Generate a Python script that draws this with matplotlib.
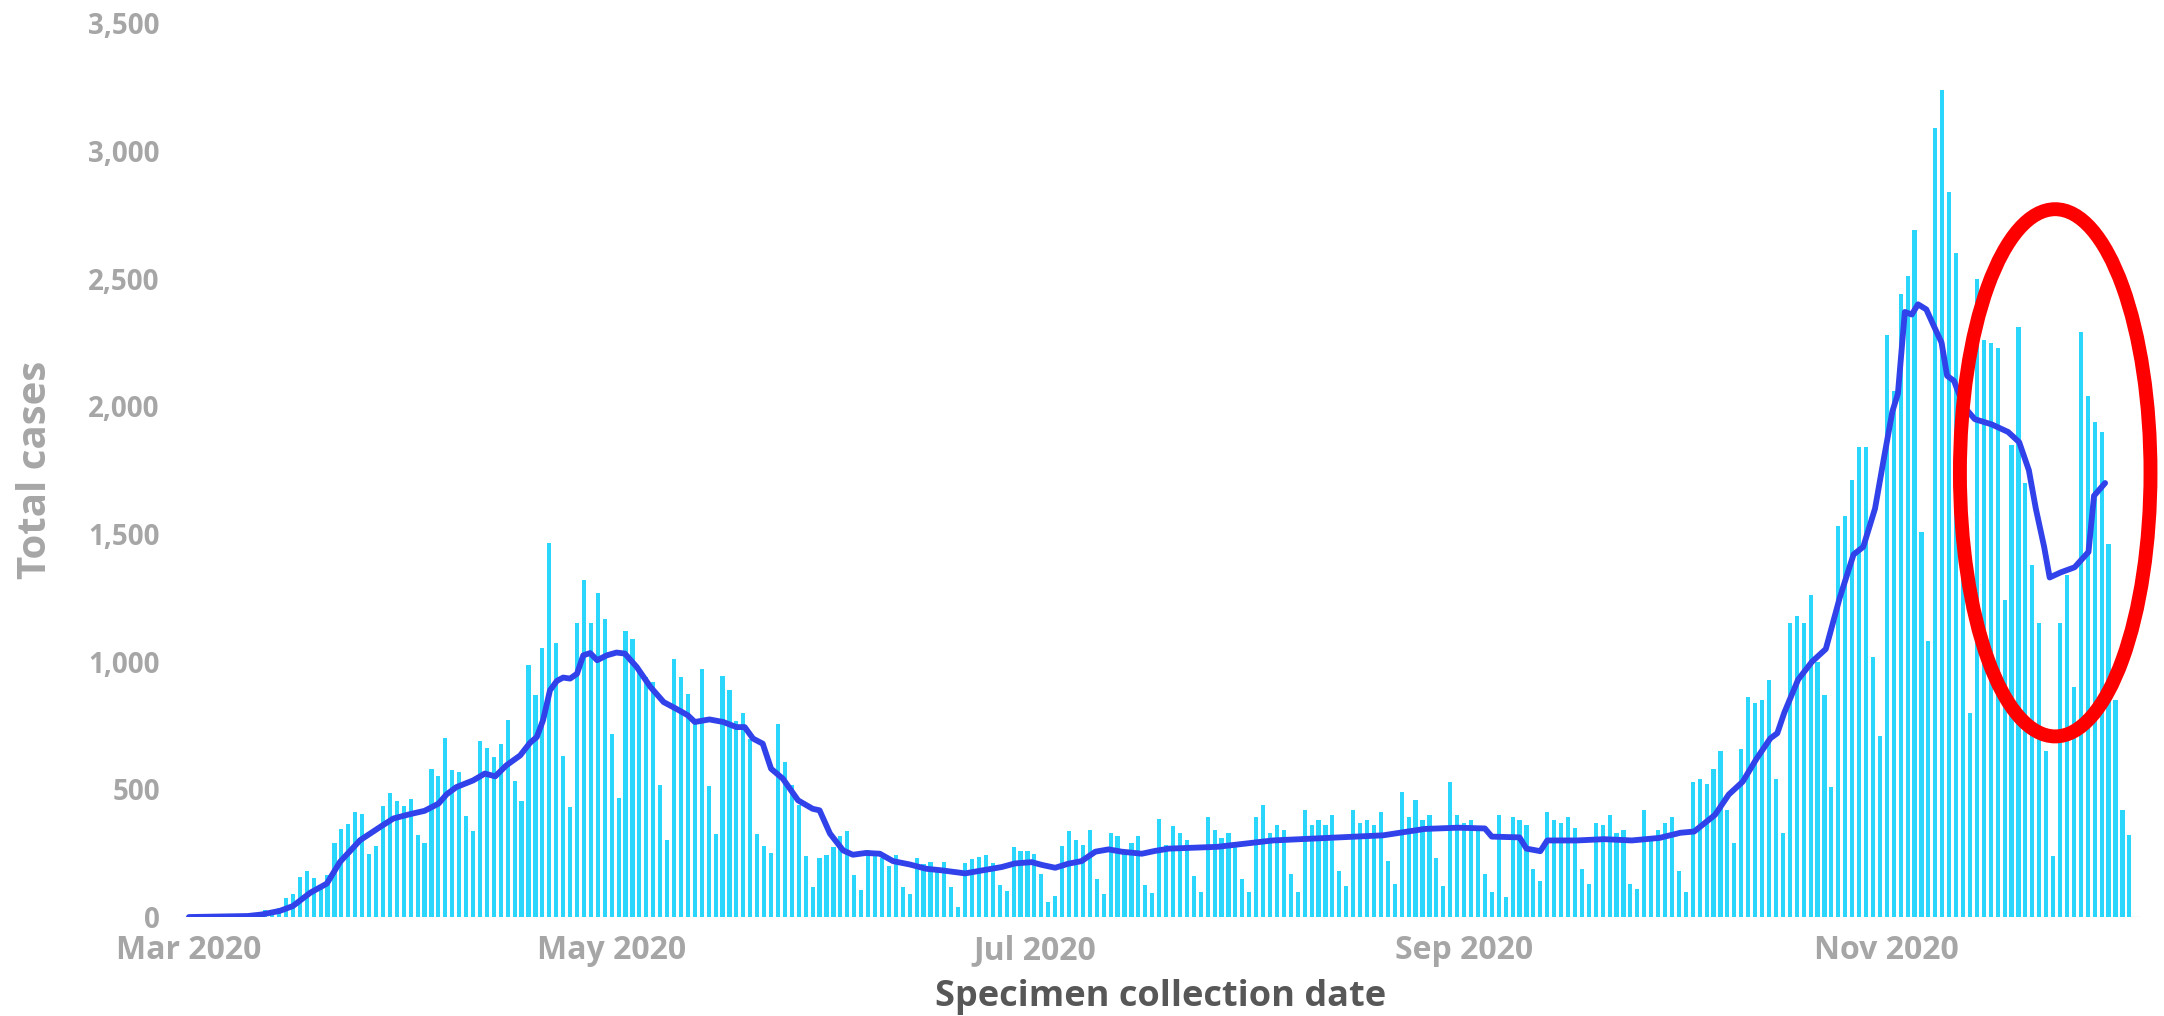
import matplotlib
matplotlib.use("Agg")
import matplotlib.pyplot as plt
import matplotlib.dates as mdates
from matplotlib.patches import Ellipse
import pandas as pd

plt.rcParams["font.family"] = ["Open Sans", "DejaVu Sans"]

# ---------------------------------------------------------------------------
# Data (daily cases from 1 Mar 2020)
# ---------------------------------------------------------------------------
start_date = "2020-03-01"

daily_cases = [
    # Mar 1 - Mar 10
    0, 0, 0, 0, 1, 1, 2, 2, 4, 6,
    # Mar 11 - Apr 6
    13, 29, 29, 37, 76, 91, 157, 180, 151, 110, 165, 290, 346, 366, 410, 402,
    247, 280, 436, 485, 456, 436, 463, 323, 290, 580, 552,
    # Apr 7 - May 11
    701, 575, 568, 396, 337, 690, 662, 626, 678, 771, 532, 454, 989, 868, 1054,
    1465, 1075, 631, 432, 1153, 1322, 1152, 1271, 1166, 716, 465, 1119, 1090,
    960, 940, 922, 518, 303, 1012, 939,
    # May 12 - Jun 15
    875, 764, 970, 513, 324, 943, 888, 767, 801, 699, 327, 277, 251, 755, 609,
    516, 438, 238, 119, 232, 243, 274, 317, 336, 166, 107, 263, 246, 231, 199,
    244, 119, 90, 232, 209,
    # Jun 16 - Jul 21
    214, 187, 214, 119, 40, 212, 226, 236, 243, 212, 125, 103, 274, 259, 257,
    248, 167, 57, 82, 277, 338, 303, 282, 340, 149, 89, 330, 316, 252, 290, 319,
    125, 93, 385, 281, 357,
    # Jul 22 - Aug 31
    330, 300, 160, 100, 390, 340, 310, 330, 290, 150, 100, 390, 440, 330, 360,
    340, 170, 100, 420, 360, 380, 360, 400, 180, 120, 420, 370, 380, 360, 410,
    220, 130, 490, 390, 460, 380, 400, 230, 120, 530, 400,
    # Sep 1 - Oct 3
    370, 380, 350, 170, 100, 400, 80, 390, 380, 360, 190, 140, 410, 380, 370,
    390, 350, 190, 130, 370, 360, 400, 330, 340, 130, 110, 420, 300, 340, 370,
    390, 180, 100,
    # Oct 4 - Oct 31
    530, 540, 520, 580, 650, 420, 290, 660, 860, 840, 850, 930, 540, 330, 1150,
    1180, 1150, 1260, 1000, 870, 510, 1530, 1570, 1710, 1840, 1840, 1020, 710,
    # Nov 1 - Dec 6
    2280, 2060, 2440, 2510, 2690, 1510, 1080, 3090, 3240, 2840, 2600, 2120, 800,
    2500, 2260, 2250, 2230, 1240, 1850, 2310, 1700, 1380, 1150, 650, 240, 1150,
    1340, 900, 2290, 2040, 1940, 1900, 1460, 850, 420, 320,
]

# 7-day average line, read as (days after Mar 1, value) pairs
avg_day_offsets = [
    0, 4, 8.5, 10.5, 13.1, 15, 17.5, 19.9, 21.8, 24.7, 27.6, 29.5, 31.9, 34, 36,
    37.2, 38.6, 41, 42.7, 44.2, 45.8, 47.8, 49.2, 50.2, 51.1, 52.1, 53.1, 54, 55,
    56, 56.9, 57.9, 58.9, 60.3, 61.7, 62.9, 64.6, 66.6, 68.5, 70.3, 72, 73, 75.1,
    77.1, 79, 80.2, 81.4, 82.8, 84, 85.7, 87.9, 90, 91, 92.5, 94.4, 95.8, 97.7,
    99.7, 101.6, 104, 106.4, 108.6, 112, 115.4, 117.3, 119.2, 121.6, 123.1, 125,
    126.9, 128.8, 130.8, 132.7, 134.6, 137.5, 139.4, 141.4, 148.4, 156.4, 164.3,
    172.3, 178.3, 183.1, 187, 188, 192, 193, 195, 196, 200.3, 204.2, 208.2,
    212.2, 215.2, 217.2, 220.2, 222.2, 224.2, 226.2, 228.2, 229.2, 230.2, 232.2,
    234.2, 236.2, 238.2, 240.2, 241.6, 243.3, 244.6, 245.8, 246.6, 247.6, 248.6,
    249.5, 250.7, 251.7, 252.9, 253.7, 254.7, 256.1, 257.7, 260.1, 262.5, 264.1,
    265.5, 266.5, 267.7, 268.5, 270.1, 272.1, 273.1, 274.1, 274.9, 276.5,
]
avg_values = [
    0, 2, 4, 10, 24, 43, 95, 131, 216, 301, 353, 386, 403, 416, 444,
    481, 509, 535, 562, 551, 594, 633, 682, 705, 771, 888, 925, 938, 934,
    953, 1025, 1034, 1006, 1025, 1036, 1032, 980, 901, 842, 816, 790, 764, 774,
    764, 744, 744, 699, 679, 581, 542, 457, 424, 418, 327, 261, 244, 251,
    248, 219, 206, 189, 183, 171, 187, 196, 210, 215, 204, 193,
    209, 219, 256, 265, 256, 248, 259, 268, 275, 300, 310,
    320, 345, 350, 347, 315, 312, 268, 258, 300, 300, 305, 300,
    310, 330, 335, 400, 480, 530, 620, 700, 720, 800, 930,
    1000, 1050, 1250, 1420, 1450, 1600, 1800, 1980, 2050, 2370, 2360,
    2400, 2380, 2320, 2250, 2120, 2100, 2000, 1950, 1930, 1900, 1860,
    1750, 1600, 1450, 1330, 1350, 1370, 1400, 1430, 1650, 1700,
]

# Highlight ellipse (data units: day offset / cases)
highlight_center = (269.3, 1740)
highlight_size = (27.5, 2065)

y_ticks = [0, 500, 1000, 1500, 2000, 2500, 3000, 3500]

# ---------------------------------------------------------------------------
# Plot
# ---------------------------------------------------------------------------
start = pd.Timestamp(start_date)
dates = pd.date_range(start, periods=len(daily_cases), freq="D")
x_bars = mdates.date2num(dates)
x0 = mdates.date2num(start)
x_line = [x0 + d for d in avg_day_offsets]

fig = plt.figure(figsize=(21.64, 10.16), dpi=100)
ax = fig.add_axes([0.0841, 0.0974, 0.9047, 0.8795])

ax.bar(x_bars, daily_cases, width=0.6, color="#2bd6fd", zorder=2)
ax.plot(x_line, avg_values, color="#3142ea", lw=4.2, zorder=3,
        solid_joinstyle="round", solid_capstyle="round")

ell = Ellipse((x0 + highlight_center[0], highlight_center[1]),
              width=highlight_size[0], height=highlight_size[1],
              fill=False, edgecolor="#ff0000", lw=10, zorder=4, clip_on=False)
ax.add_patch(ell)

ax.set_xlim(x0 - 1, x0 + 281.5)
ax.set_ylim(0, 3500)
ax.axhline(0, color="#e8e8e8", lw=1, zorder=1)

ax.xaxis.set_major_locator(mdates.MonthLocator(bymonth=[3, 5, 7, 9, 11]))
ax.xaxis.set_major_formatter(mdates.DateFormatter("%b %Y"))
ax.set_yticks(y_ticks)
ax.set_yticklabels([f"{v:,}" for v in y_ticks])

ax.tick_params(axis="both", length=0, labelcolor="#a6a6a6")
ax.tick_params(axis="x", pad=12, labelsize=23)
ax.tick_params(axis="y", pad=16, labelsize=20)
for lbl in ax.get_xticklabels() + ax.get_yticklabels():
    lbl.set_fontweight("bold")

for spine in ax.spines.values():
    spine.set_visible(False)

ax.set_ylabel("Total cases", fontsize=29, color="#a6a6a6", fontweight="bold",
              va="center")
ax.yaxis.set_label_coords(-0.075, 0.5)
ax.set_xlabel("Specimen collection date", fontsize=26, color="#575757",
              fontweight="bold", va="center")
ax.xaxis.set_label_coords(0.5, -0.09)

fig.savefig("out.png", dpi=100)
